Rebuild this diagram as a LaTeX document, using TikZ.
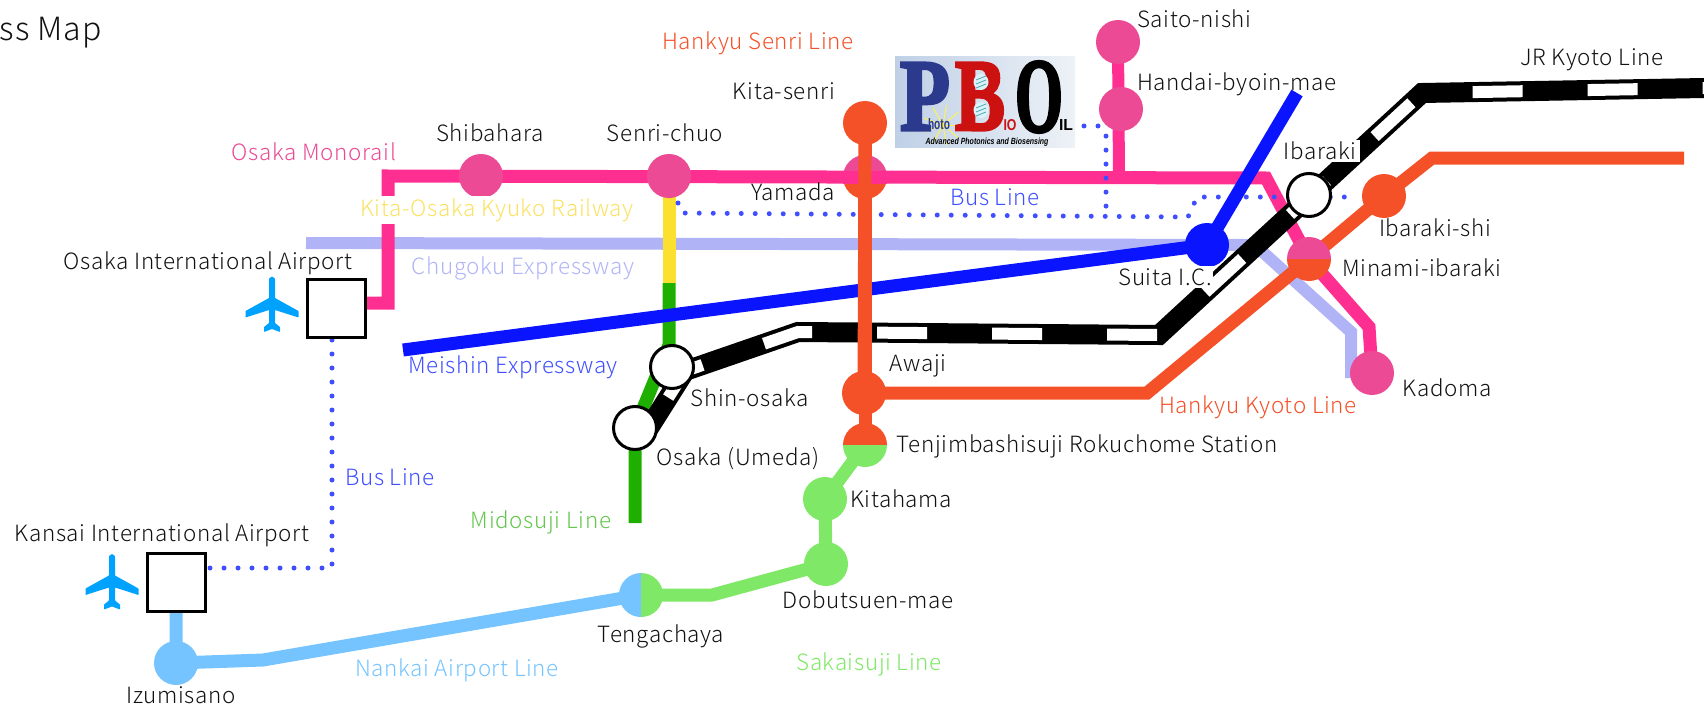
\documentclass[tikz,border=0pt]{standalone}
\usepackage{fontspec}
\usetikzlibrary{shapes.geometric}
\setmainfont[LetterSpace=3]{Noto Sans CJK JP Light}
\newfontfamily\logofont[BoldFeatures={FakeBold=3}]{Liberation Serif}
\newfontfamily\logosans{Liberation Sans}
\definecolor{pinkline}{HTML}{FF2F92}
\definecolor{pinkst}{HTML}{EC4A94}
\definecolor{orangeline}{HTML}{F45128}
\definecolor{greenline}{HTML}{1FAF00}
\definecolor{yellowline}{HTML}{FBE02F}
\definecolor{yellowtxt}{HTML}{FBE262}
\definecolor{lavline}{HTML}{B0B4F7}
\definecolor{blueline}{HTML}{0A14FF}
\definecolor{dotline}{HTML}{3F4FFF}
\definecolor{skyline}{HTML}{75C4FF}
\definecolor{lgreen}{HTML}{7FE866}
\definecolor{planec}{HTML}{00A2FF}
\definecolor{txt}{HTML}{111111}
\definecolor{logoa}{HTML}{BFD0E6}
\definecolor{logob}{HTML}{EEF2F7}
\definecolor{logoblue}{HTML}{2B3A8C}
\definecolor{logored}{HTML}{CC1111}
\tikzset{
  railline/.style={line width=#1,line join=miter},
  station/.style={circle,inner sep=0pt,minimum size=44pt,fill=#1},
  hollow/.style={circle,inner sep=0pt,minimum size=43pt,fill=white,draw=black,line width=3pt},
  airportbox/.style={rectangle,inner sep=0pt,minimum size=58pt,fill=white,draw=black,line width=3pt},
  lbl/.style={font=\fontsize{22.4}{26}\selectfont,text=txt,inner sep=0pt,anchor=center},
  clbl/.style={lbl,text=#1},
  busdots/.style={draw=dotline,line width=5pt,line cap=round,dash pattern=on 0pt off 14pt},
  logotxt/.style={inner sep=0pt,anchor=center},
  plane/.pic={\fill[planec,rounded corners=0.6pt]
     (0,-28) .. controls (-3,-28) and (-3,-26) .. (-3,-24) -- (-3,-7) -- (-26.5,6) -- (-26.5,12.5) -- (-3,5) -- (-3,18) -- (-8,22) -- (-8,27) -- (0,24) -- (8,27) -- (8,22) -- (3,18) -- (3,5) -- (26.5,12.5) -- (26.5,6) -- (3,-7) -- (3,-24) .. controls (3,-26) and (3,-28) .. (0,-28) -- cycle;}
}
\begin{document}
\begin{tikzpicture}[x=1pt,y=-1pt]
\useasboundingbox (0,0) rectangle (1704,706);
\clip (0,0) rectangle (1704,706);
% coordinates
\coordinate (saito) at (1118,42);
\coordinate (handai) at (1121,109);
\coordinate (shiba) at (481,176);
\coordinate (senri) at (669,176);
\coordinate (kita) at (865,123);
\coordinate (yamada) at (865,177);
\coordinate (awaji) at (864,393);
\coordinate (tenji) at (865,445);
\coordinate (kitahama) at (825,499);
\coordinate (dobutsu) at (826,564);
\coordinate (tenga) at (641,595);
\coordinate (izumi) at (176,663);
\coordinate (shin) at (672,367);
\coordinate (umeda) at (635,428);
\coordinate (ibaraki) at (1309,195);
\coordinate (ibashi) at (1384,196);
\coordinate (minami) at (1309,259);
\coordinate (kadoma) at (1372,373);
\coordinate (suita) at (1207,245);
\coordinate (itami) at (336,303);
\coordinate (kansai) at (176,582);
% Chugoku
\coordinate (chA) at (306,243);
\coordinate (chB) at (1255,245);
\coordinate (chC) at (1351,332);
\coordinate (chD) at (1351,378);
\draw[lavline,railline=12pt] (chA) -- (chB) -- (chC) -- (chD);
% Monorail
\coordinate (moA) at (388,303);
\coordinate (moB) at (388,176);
\coordinate (moC) at (1266,178);
\coordinate (moD) at (1369,327);
\coordinate (moE) at (1119,178);
\draw[pinkline,railline=13pt] (itami) -- (moA) -- (moB) -- (moC) -- (minami) -- (moD) -- (kadoma);
\draw[pinkline,railline=12pt] (saito) -- (moE);
% Midosuji
\coordinate (miA) at (669,283);
\coordinate (miK) at (669,345);
\coordinate (miB) at (635,523);
\draw[greenline,railline=13pt] (miA) -- (miK) -- (umeda) -- (miB);
\draw[yellowline,railline=13pt] (senri) -- (miA);
% Bus
\coordinate (buA) at (210,568);
\coordinate (buB) at (332,568);
\coordinate (buC) at (332,338);
\draw[busdots] (buA) -- (buB) -- (buC);
\coordinate (buD) at (678,203);
\coordinate (buE) at (682,213);
\coordinate (buF) at (1188,217);
\coordinate (buG) at (1197,197);
\coordinate (buH) at (1353,197);
\draw[busdots] (buD) -- (buE) -- (buF) -- (buG) -- (buH);
\coordinate (buI) at (1084,126);
\coordinate (buJ) at (1099,126);
\coordinate (buK) at (1106,133);
\coordinate (buL) at (1106,215);
\draw[busdots] (buI) -- (buJ) -- (buK) -- (buL);
% Meishin
\coordinate (meA) at (403,350);
\coordinate (meB) at (1297,93);
\draw[blueline,railline=13pt] (meA) -- (suita) -- (meB);
% JR
\coordinate (jrS) at (649,428);
\coordinate (jrK) at (685,371);
\coordinate (jrA) at (798,332);
\coordinate (jrB) at (1159,335);
\coordinate (jrC) at (1422,93);
\coordinate (jrD) at (1704,88);
\draw[black,railline=20pt] (jrS) -- (jrK) -- (jrA) -- (jrB) -- (jrC) -- (jrD);
\draw[white,railline=12pt,dash pattern=on 50pt off 65pt,dash phase=79pt] (jrS) -- (jrK) -- (jrA) -- (jrB) -- (jrC) -- (jrD);
% Hankyu Senri
\draw[orangeline,railline=13pt] (kita) -- (tenji);
% Hankyu Kyoto
\coordinate (hkA) at (1147,393);
\coordinate (hkB) at (1432,158);
\coordinate (hkC) at (1684,158);
\draw[orangeline,railline=13pt] (awaji) -- (hkA) -- (minami) -- (ibashi) -- (hkB) -- (hkC);
% Sakaisuji
\coordinate (saA) at (712,595);
\draw[lgreen,railline=13pt] (tenji) -- (kitahama) -- (dobutsu) -- (saA) -- (tenga);
% Nankai
\coordinate (naA) at (263,660);
\draw[skyline,railline=13pt] (tenga) -- (naA) -- (izumi) -- (kansai);
% Stations
\node[station=pinkst] (nsaito) at (saito) {};
\node[station=pinkst] (nhandai) at (handai) {};
\node[station=pinkst] (nshiba) at (shiba) {};
\node[station=pinkst] (nsenri) at (senri) {};
\node[station=orangeline] (nkita) at (kita) {};
\begin{scope}
\clip (830,140) rectangle (900,177);
\node[station=pinkst] (nyamadaA) at (yamada) {};
\end{scope}
\begin{scope}
\clip (830,177) rectangle (900,210);
\node[station=orangeline] (nyamadaB) at (yamada) {};
\end{scope}
\fill[pinkline] (843,170.5) rectangle (887,183.5);
\draw[orangeline,railline=13pt] (kita) -- (awaji);
\node[station=orangeline] (nawaji) at (awaji) {};
\begin{scope}
\clip (830,420) rectangle (900,445);
\node[station=orangeline] (ntenjiA) at (tenji) {};
\end{scope}
\begin{scope}
\clip (830,445) rectangle (900,470);
\node[station=lgreen] (ntenjiB) at (tenji) {};
\end{scope}
\node[station=lgreen] (nkitahama) at (kitahama) {};
\node[station=lgreen] (ndobutsu) at (dobutsu) {};
\begin{scope}
\clip (610,570) rectangle (641,620);
\node[station=skyline] (ntengaA) at (tenga) {};
\end{scope}
\begin{scope}
\clip (641,570) rectangle (670,620);
\node[station=lgreen] (ntengaB) at (tenga) {};
\end{scope}
\node[station=skyline] (nizumi) at (izumi) {};
\node[hollow] (nshin) at (shin) {};
\node[hollow] (numeda) at (umeda) {};
\node[hollow] (nibaraki) at (ibaraki) {};
\node[station=orangeline] (nibashi) at (ibashi) {};
\begin{scope}
\clip (1280,230) rectangle (1340,259);
\node[station=pinkst] (nminamiA) at (minami) {};
\end{scope}
\begin{scope}
\clip (1280,259) rectangle (1340,290);
\node[station=orangeline] (nminamiB) at (minami) {};
\end{scope}
\node[station=pinkst] (nkadoma) at (kadoma) {};
\node[station=blueline] (nsuita) at (suita) {};
\node[airportbox] (nitami) at (336,308.5) {};
\node[airportbox] (nkansai) at (176,582) {};
\pic at (272,305) {plane};
\pic at (112,582.5) {plane};
% Logo
\node[inner sep=0pt,minimum width=180pt,minimum height=90pt,left color=logoa,right color=logob] (logo) at (985,102) {};
\foreach \a in {0,40,...,320}{\draw[yellow!70!white,line width=0.9pt] (943,125) -- ++(\a:20);}
\node[logotxt,text=logoblue,font=\logofont\bfseries] (lp) at (925,96.5) {\resizebox{50pt}{67pt}{P}};
\node[logotxt,text=logored,font=\logofont\bfseries] (lb) at (980,96.5) {\resizebox{50pt}{67pt}{B}};
\fill[white!85!cyan] (981,82) ellipse (7.5pt and 8pt);
\fill[white!85!cyan] (981,110) ellipse (7.5pt and 8pt);
\foreach \yy in {78,82,86,106,110,114}{\draw[teal!70!white,line width=0.8pt] (976,\yy+2) -- (986,\yy-2);}
\node[logotxt,text=black,font=\logofont\bfseries] (lo) at (1039,97) {\resizebox{48pt}{70pt}{O}};
\node[logotxt,text=logoblue,font=\logosans\bfseries] (lh) at (939,124.5) {\resizebox{22pt}{11pt}{hoto}};
\node[logotxt,text=logored,font=\logosans\bfseries] (li) at (1010,125) {\resizebox{13pt}{11pt}{IO}};
\node[logotxt,text=black,font=\logosans\bfseries] (ll) at (1066,125) {\resizebox{14pt}{11pt}{IL}};
\node[logotxt,text=black,font=\logosans\bfseries\itshape] (la) at (987,142) {\resizebox{123pt}{6.5pt}{Advanced Photonics and Biosensing}};
% Labels
\node[lbl,anchor=east] (ltitle) at (102,33) {\fontsize{32}{36}\selectfont ss Map};
\node[lbl,anchor=west] (l1) at (1137,19) {Saito-nishi};
\node[lbl,anchor=west] (l2) at (1137,84) {Handai-byoin-mae};
\node[lbl] (l3) at (1592,60) {JR Kyoto Line};
\node[clbl=orangeline] (l4) at (758,43) {Hankyu Senri Line};
\node[lbl] (l5) at (784,91) {Kita-senri};
\node[lbl] (l6) at (490,133) {Shibahara};
\node[lbl] (l7) at (665,133) {Senri-chuo};
\node[clbl=pinkst] (l8) at (314,152) {Osaka Monorail};
\node[clbl=yellowtxt,fill=white,inner ysep=2pt] (l9) at (497,210) {Kita-Osaka Kyuko Railway};
\node[lbl] (l10) at (793,192) {Yamada};
\node[clbl=dotline] (l11) at (995,197) {Bus Line};
\node[clbl=lavline] (l12) at (523,268) {Chugoku Expressway};
\node[lbl] (l13) at (208,263) {Osaka International Airport};
\node[clbl=dotline] (l14) at (513,367) {Meishin Expressway};
\node[lbl,fill=white,inner ysep=2pt,inner xsep=1pt] (l15) at (1165,277) {Suita I.C.};
\node[lbl,fill=white,inner ysep=2pt,inner xsep=4pt] (l16) at (1320,151) {Ibaraki};
\node[lbl] (l17) at (1435,228) {Ibaraki-shi};
\node[lbl] (l18) at (1422,268) {Minami-ibaraki};
\node[lbl] (l19) at (1447,388) {Kadoma};
\node[clbl=orangeline] (l20) at (1258,407) {Hankyu Kyoto Line};
\node[lbl] (l21) at (918,366) {Awaji};
\node[lbl] (l22) at (750,398) {Shin-osaka};
\node[lbl] (l23) at (738,459) {Osaka (Umeda)};
\node[lbl] (l24) at (1087,446) {Tenjimbashisuji Rokuchome Station};
\node[lbl] (l25) at (901,499) {Kitahama};
\node[clbl=greenline!70!white] (l26) at (541,522) {Midosuji Line};
\node[clbl=dotline] (l27) at (390,477) {Bus Line};
\node[lbl] (l28) at (162,535) {Kansai International Airport};
\node[lbl] (l29) at (868,600) {Dobutsuen-mae};
\node[lbl] (l30) at (661,636) {Tengachaya};
\node[clbl=lgreen] (l31) at (869,664) {Sakaisuji Line};
\node[clbl=skyline] (l32) at (457,670) {Nankai Airport Line};
\node[lbl] (l33) at (181,695) {Izumisano};
\end{tikzpicture}
\end{document}
